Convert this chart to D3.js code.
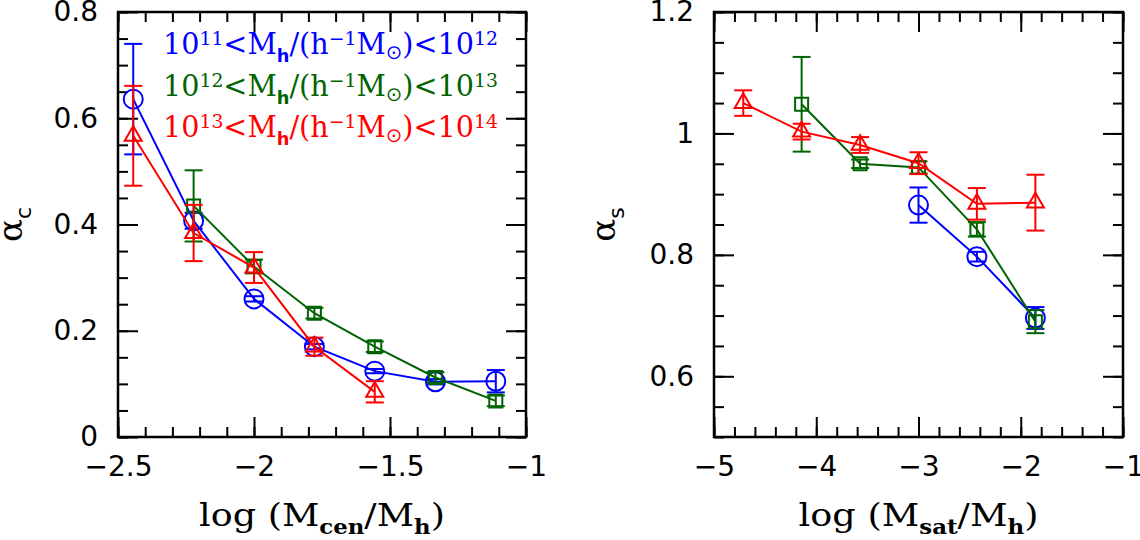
<!DOCTYPE html>
<html>
<head>
<meta charset="utf-8">
<script src="https://cdn.jsdelivr.net/npm/d3@7"></script>
<style>
  body { margin: 0; background: #fff; }
  svg { display: block; }
</style>
</head>
<body>
<svg id="chart" width="1140" height="540"></svg>
<script>
// bin centres (log M/Mh)
const xCen = [-2.444, -2.222, -2.0, -1.778, -1.556, -1.333, -1.111]
const xSat = [-4.714, -4.143, -3.571, -3.0, -2.429, -1.857]

// alpha_c, three halo mass bins
const acLow = [0.636, 0.407, 0.260, 0.170, 0.124, 0.104, 0.105]
const acLowErr = [0.104, 0.015, 0.005, 0.005, 0.004, 0.005, 0.021]
const acMid = [0.435, 0.321, 0.233, 0.170, 0.112, 0.068]
const acMidErr = [0.067, 0.013, 0.010, 0.010, 0.010, 0.010]
const acHigh = [0.567, 0.384, 0.319, 0.170, 0.085]
const acHighErr = [0.094, 0.053, 0.029, 0.017, 0.020]

// alpha_s
const asLow = [0.882, 0.797, 0.696]
const asLowErr = [0.029, 0.008, 0.018]
const asMid = [1.048, 0.950, 0.944, 0.842, 0.690]
const asMidErr = [0.078, 0.007, 0.010, 0.012, 0.019]
const asHigh = [1.050, 1.003, 0.981, 0.951, 0.884, 0.886]
const asHighErr = [0.021, 0.013, 0.013, 0.018, 0.026, 0.046]

// legend: 10^lo < Mh/(h^-1 Msun) < 10^hi
const massLo = ['11', '12', '13']
const massHi = ['12', '13', '14']
const colors = ['#0000ff', '#006400', '#ff0000']
const symbolTypes = [d3.symbolCircle, d3.symbolSquare, d3.symbolTriangle]
const symbolSizes = [Math.PI * 9.5 * 9.5, 13 * 13, 125]

const svg = d3.select('#chart')
const TOP = 12, BOTTOM = 437
const fmt = d3.format('~g')

function drawPanel(cfg) {
  const x = d3.scaleLinear().domain(cfg.xDomain).range([cfg.left, cfg.right])
  const y = d3.scaleLinear().domain(cfg.yDomain).range([BOTTOM, TOP])
  const g = svg.append('g')

  const steps = (lo, hi, st) => d3.range(Math.round((hi - lo) / st) + 1).map(i => +(lo + i * st).toFixed(4))
  const xMajor = steps(cfg.xDomain[0], cfg.xDomain[1], cfg.xMajor)
  const xMinor = steps(cfg.xDomain[0], cfg.xDomain[1], cfg.xMinor)
  const yMajor = steps(cfg.yDomain[0], cfg.yDomain[1], cfg.yMinor).filter(v => cfg.yLabels.includes(v))
  const yMinor = steps(cfg.yDomain[0], cfg.yDomain[1], cfg.yMinor)

  const addAxis = (axis, tr, labels) => {
    const a = g.append('g').attr('transform', tr).call(axis)
    a.select('.domain').remove()
    a.selectAll('line').attr('stroke', '#000').attr('stroke-width', 2)
    if (labels) a.selectAll('text').attr('font-family', 'DejaVu Sans').attr('font-size', 28).attr('fill', '#000')
    else a.selectAll('text').remove()
    return a
  }
  // bottom / top
  addAxis(d3.axisBottom(x).tickValues(xMinor).tickSize(-10).tickFormat(''), `translate(0,${BOTTOM})`)
  addAxis(d3.axisBottom(x).tickValues(xMajor).tickSize(-20).tickPadding(19).tickFormat(fmt), `translate(0,${BOTTOM})`, true)
  addAxis(d3.axisTop(x).tickValues(xMinor).tickSize(-10).tickFormat(''), `translate(0,${TOP})`)
  addAxis(d3.axisTop(x).tickValues(xMajor).tickSize(-20).tickFormat(''), `translate(0,${TOP})`)
  // left / right
  addAxis(d3.axisLeft(y).tickValues(yMinor).tickSize(-10).tickFormat(''), `translate(${cfg.left},0)`)
  addAxis(d3.axisLeft(y).tickValues(yMajor).tickSize(-20).tickPadding(20).tickFormat(fmt), `translate(${cfg.left},0)`, true)
  addAxis(d3.axisRight(y).tickValues(yMinor).tickSize(-10).tickFormat(''), `translate(${cfg.right},0)`)
  addAxis(d3.axisRight(y).tickValues(yMajor).tickSize(-20).tickFormat(''), `translate(${cfg.right},0)`)

  g.append('rect')
    .attr('x', cfg.left).attr('y', TOP)
    .attr('width', cfg.right - cfg.left).attr('height', BOTTOM - TOP)
    .attr('fill', 'none').attr('stroke', '#000').attr('stroke-width', 2.5)

  // series
  const line = d3.line().x(d => x(d.x)).y(d => y(d.y))
  cfg.series.forEach((s, i) => {
    const pts = s.ys.map((v, k) => ({ x: s.xs[k], y: v, e: s.errs[k] }))
    const sg = g.append('g').attr('stroke', colors[i]).attr('fill', 'none').attr('stroke-width', 2)
    sg.append('path').attr('d', line(pts))
    const eb = sg.selectAll('g.err').data(pts).join('g').attr('class', 'err')
    eb.append('line')
      .attr('x1', d => x(d.x)).attr('x2', d => x(d.x))
      .attr('y1', d => y(d.y - d.e)).attr('y2', d => y(d.y + d.e))
    eb.append('line')
      .attr('x1', d => x(d.x) - 9).attr('x2', d => x(d.x) + 9)
      .attr('y1', d => y(d.y + d.e)).attr('y2', d => y(d.y + d.e))
    eb.append('line')
      .attr('x1', d => x(d.x) - 9).attr('x2', d => x(d.x) + 9)
      .attr('y1', d => y(d.y - d.e)).attr('y2', d => y(d.y - d.e))
    sg.selectAll('path.mk').data(pts).join('path').attr('class', 'mk')
      .attr('transform', d => `translate(${x(d.x)},${y(d.y)})`)
      .attr('d', d3.symbol(symbolTypes[i], symbolSizes[i]))
  })

  // x title, stretched to the wide plotter font
  const cx = (cfg.left + cfg.right) / 2
  const tg = g.append('g')
  const t = tg.append('text').attr('font-family', 'DejaVu Serif').attr('font-size', 32)
    .attr('text-anchor', 'middle').attr('fill', '#000')
  t.append('tspan').text('log (M')
  t.append('tspan').attr('dy', 8).attr('font-size', 20).attr('font-weight', 'bold').text(cfg.sub)
  t.append('tspan').attr('dy', -8).text('/M')
  t.append('tspan').attr('dy', 8).attr('font-size', 20).attr('font-weight', 'bold').text('h')
  t.append('tspan').attr('dy', -8).text(')')
  const w = t.node().getComputedTextLength()
  tg.attr('transform', `translate(${cx},526) scale(${cfg.titleWidth / w},1)`)

  // y title
  const yt = g.append('text').attr('font-family', 'DejaVu Serif').attr('font-size', 34)
    .attr('text-anchor', 'middle').attr('fill', '#000')
    .attr('transform', `translate(${cfg.yTitleX},${(TOP + BOTTOM) / 2}) rotate(-90)`)
  yt.append('tspan').text('\u03b1')
  yt.append('tspan').attr('dy', 9).attr('font-size', 22).attr('font-family', 'DejaVu Sans').text(cfg.ySub)

  return { x, y, g }
}

drawPanel({
  left: 118, right: 526,
  xDomain: [-2.5, -1], xMajor: 0.5, xMinor: 0.1,
  yDomain: [0, 0.8], yMinor: 0.05, yLabels: [0, 0.2, 0.4, 0.6, 0.8],
  sub: 'cen', titleWidth: 246, yTitleX: 22, ySub: 'c',
  series: [
    { xs: xCen, ys: acLow, errs: acLowErr },
    { xs: xCen.slice(1), ys: acMid, errs: acMidErr },
    { xs: xCen.slice(0, 5), ys: acHigh, errs: acHighErr }
  ]
})

drawPanel({
  left: 714, right: 1123,
  xDomain: [-5, -1], xMajor: 1, xMinor: 0.2,
  yDomain: [0.5, 1.2], yMinor: 0.05, yLabels: [0.6, 0.8, 1, 1.2],
  sub: 'sat', titleWidth: 240, yTitleX: 615, ySub: 's',
  series: [
    { xs: xSat.slice(3), ys: asLow, errs: asLowErr },
    { xs: xSat.slice(1), ys: asMid, errs: asMidErr },
    { xs: xSat, ys: asHigh, errs: asHighErr }
  ]
})

// legend
const legendY = [54, 96, 137]
massLo.forEach((lo, i) => {
  const lg = svg.append('g')
  const t = lg.append('text').attr('font-family', 'DejaVu Serif').attr('font-size', 29).attr('fill', colors[i])
  t.append('tspan').text('10')
  t.append('tspan').attr('dy', -9).attr('font-size', 19).text(lo)
  t.append('tspan').attr('dy', 9).text('<M')
  t.append('tspan').attr('dy', 8).attr('font-size', 18).attr('font-family', 'DejaVu Sans').attr('font-weight', 'bold').text('h')
  t.append('tspan').attr('dy', -8).text('/(h')
  t.append('tspan').attr('dy', -9).attr('font-size', 19).text('\u22121')
  t.append('tspan').attr('dy', 9).text('M')
  t.append('tspan').attr('dy', 5).attr('font-size', 20).attr('font-family', 'DejaVu Sans').text('\u2299')
  t.append('tspan').attr('dy', -5).text(')<10')
  t.append('tspan').attr('dy', -9).attr('font-size', 19).text(massHi[i])
  const w = t.node().getComputedTextLength()
  lg.attr('transform', `translate(163,${legendY[i]}) scale(${335 / w},1)`)
})
</script>
</body>
</html>
